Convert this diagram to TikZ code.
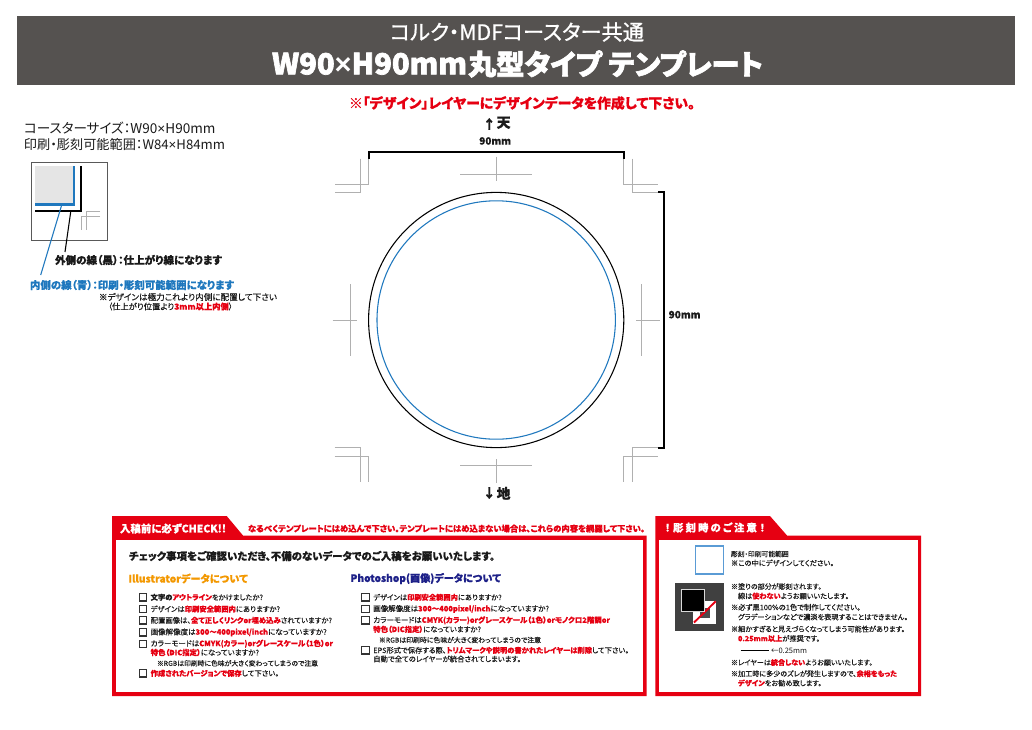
\documentclass[tikz,border=0pt]{standalone}
\usepackage{fontspec}
\usepackage{graphicx}
\setmainfont[RawFeature={+palt},UprightFeatures={FakeBold=0.25},BoldFeatures={FakeBold=0.5}]{Noto Sans CJK JP}
\newfontfamily\jpl[RawFeature={+palt}]{Noto Sans CJK JP}
\newfontfamily\jpm[RawFeature={+palt},UprightFeatures={FakeBold=0.9}]{Noto Sans CJK JP}
\newfontfamily\jph[RawFeature={+palt},BoldFeatures={FakeBold=2.2}]{Noto Sans CJK JP}
\newfontfamily\lib{Liberation Sans}
\definecolor{hdr}{HTML}{555250}
\definecolor{rd}{HTML}{E60012}
\definecolor{bl}{HTML}{1F78BE}
\definecolor{sq}{HTML}{5A9BD5}
\definecolor{org}{HTML}{F39800}
\definecolor{nvy}{HTML}{1D2088}
\definecolor{crop}{HTML}{B0B0B0}
\definecolor{txk}{HTML}{1A1A1A}
\newcounter{tn}
\newcommand{\T}[4]{\stepcounter{tn}\pgfmathsetlengthmacro{\tw}{(#2-#1)*0.75pt}%
  \node[txt] (t\arabic{tn}) at (#1,#3) {\resizebox{\tw}{!}{\vphantom{国}#4}};}
\newcommand{\Rd}[1]{\textcolor{rd}{\bfseries #1}}
\newcommand{\Ck}[2]{\draw[chk] (#1,#2-3.6) rectangle ++(7.4,7.2);}
\newcommand{\Xs}{{\lib ×}}
\tikzset{
  txt/.style={anchor=west,inner sep=0pt,outer sep=0pt,text=txk},
  cropline/.style={crop,line width=0.75pt},
  chk/.style={draw=black!80,line width=0.9pt,fill=white},
  dim/.style={black,line width=1.6pt,line join=miter},
  panel/.style={fill=rd,draw=none},
}
\begin{document}
\begin{tikzpicture}[x=0.75pt,y=-0.75pt]
\useasboundingbox (0,0) rectangle (1032,729);
\fill[white] (0,0) rectangle (1032,729);
% header
\fill[hdr] (17,16) rectangle (1015,85);
\T{390}{644}{32}{\color{white}\jpm コルク・MDFコースター共通}
\T{272}{467}{64}{\color{white}\jph\bfseries W90\Xs H90mm}
\T{468}{763}{64}{\color{white}\jph\bfseries 丸型タイプ テンプレート}
\T{349}{695}{103}{\Rd{※「デザイン」レイヤーにデザインデータを作成して下さい。}}
% left info
\T{24}{215.5}{128}{\jpl コースターサイズ：W90\Xs H90mm}
\T{24}{225}{144.5}{\jpl 印刷・彫刻可能範囲：W84\Xs H84mm}
\draw[black!65,line width=0.7pt] (31,162) rectangle (107,240);
\fill[black!10] (35,166) rectangle (73,203.5);
\draw[bl,line width=1.6pt] (35,204.5)--(74,204.5)--(74,166);
\draw[black,line width=1.6pt] (35,211)--(81.3,211)--(81.3,166);
\draw[crop,line width=0.5pt] (100,211)--(86,211)--(86,230);
\draw[crop,line width=0.5pt] (100,216)--(81,216)--(81,230);
\coordinate (kA) at (70.7,212); \coordinate (kB) at (65,252);
\coordinate (bA) at (61.7,205); \coordinate (bB) at (40.7,275);
\draw[black,line width=0.8pt] (kA)--(kB);
\draw[bl,line width=0.8pt] (bA)--(bB);
\T{55}{222}{260}{\bfseries 外側の線（黒）：仕上がり線になります}
\T{30}{234}{285}{\color{bl}\bfseries 内側の線（青）：印刷・彫刻可能範囲になります}
\T{99}{277}{297}{※デザインは極力これより内側に配置して下さい}
\T{108}{233}{306.5}{（仕上がり位置より\Rd{3mm以上内側}）}
% main template
\draw[black,line width=0.8pt] (496.2,320) circle (127.6);
\draw[bl,line width=0.8pt] (496.2,320) circle (119.2);
\draw[dim] (368.7,158.5)--(368.7,152)--(623.7,152)--(623.7,158.5);
\draw[dim] (658.3,192)--(664.3,192)--(664.3,447.7)--(658.3,447.7);
% corner crop marks
\draw[cropline] (368.7,158.5)--(368.7,184.3)--(334.7,184.3);
\draw[cropline] (360.7,158.5)--(360.7,192.3)--(334.7,192.3);
\draw[cropline] (623.7,158.5)--(623.7,184.3)--(657.7,184.3);
\draw[cropline] (632.3,158.5)--(632.3,192.3)--(657.7,192.3);
\draw[cropline] (334.7,447.3)--(360.7,447.3)--(360.7,481.7);
\draw[cropline] (334.7,456)--(368.7,456)--(368.7,481.7);
\draw[cropline] (657.7,447.3)--(632.3,447.3)--(632.3,481.7);
\draw[cropline] (657.7,456)--(623.7,456)--(623.7,481.7);
% centre crop marks
\draw[cropline] (460,174.3)--(532,174.3) (496.3,156.7)--(496.3,180.7);
\draw[cropline] (460,465.3)--(532,465.3) (496.3,459.3)--(496.3,483.3);
\draw[cropline] (350.7,284)--(350.7,356) (332.7,320.3)--(356.7,320.3);
\draw[cropline] (641.7,284)--(641.7,356) (636,320.3)--(660,320.3);
% dimension labels
\T{483}{495.5}{124}{\bfseries ↑}
\T{496.7}{510.5}{122.7}{\bfseries 天}
\T{479.3}{511}{141}{\bfseries 90mm}
\T{668.7}{700.5}{314.7}{\bfseries 90mm}
\T{483}{495.5}{493}{\bfseries ↓}
\T{496.7}{510.5}{493.3}{\bfseries 地}
% panel 1
\fill[panel] (112,516)--(226.7,516)--(243,535.5)--(646.7,535.5)--(646.7,696)--(112,696)--cycle;
\fill[white] (116,539.5) rectangle (642.7,692);
\T{120}{226}{528.5}{\color{white}\bfseries 入稿前に必ずCHECK!!}
\T{248}{645}{528.5}{\Rd{なるべくテンプレートにはめ込んで下さい。テンプレートにはめ込まない場合は、これらの内容を網羅して下さい。}}
\T{129}{495}{556}{\bfseries チェック事項をご確認いただき、不備のないデータでのご入稿をお願いいたします。}
\T{128.5}{248}{578.5}{\color{org}\bfseries Illustratorデータについて}
\T{350.5}{501}{578.5}{\color{nvy}\bfseries Photoshop(画像)データについて}
\Ck{139.3}{597.3}\T{150.7}{263}{597.3}{\bfseries 文字の\Rd{アウトライン}\mdseries をかけましたか?}
\Ck{139.3}{609}\T{150.7}{280}{609}{デザインは\Rd{印刷安全範囲内}にありますか?}
\Ck{139.3}{620.3}\T{150.7}{332}{620.3}{配置画像は、\Rd{全て正しくリンクor埋め込み}されていますか?}
\Ck{139.3}{632.3}\T{150.7}{326.7}{632.3}{画像解像度は\Rd{300〜400pixel/inch}になっていますか?}
\Ck{139.3}{643.7}\T{150.7}{333}{643.7}{カラーモードは\Rd{CMYK(カラー)orグレースケール（1色）or}}
\T{150.7}{259}{652.5}{\Rd{特色（DIC指定）}になっていますか?}
\T{157}{318}{663.3}{※RGBは印刷時に色味が大きく変わってしまうので注意}
\Ck{139.3}{673.3}\T{150.7}{279}{673.3}{\Rd{作成されたバージョンで保存}して下さい。}
\Ck{361.7}{597.3}\T{373.3}{501.7}{597.3}{デザインは\Rd{印刷安全範囲内}にありますか?}
\Ck{361.7}{609}\T{373.3}{549}{609}{画像解像度は\Rd{300〜400pixel/inch}になっていますか?}
\Ck{361.7}{620.3}\T{373.3}{610}{620.3}{カラーモードは\Rd{CMYK(カラー)orグレースケール（1色）orモノクロ2階調or}}
\T{373.3}{481}{629.3}{\Rd{特色（DIC指定）}になっていますか?}
\T{379}{541}{640}{※RGBは印刷時に色味が大きく変わってしまうので注意}
\Ck{361.7}{650.3}\T{373.3}{629}{650.3}{EPS形式で保存する際、\Rd{トリムマークや説明の書かれたレイヤーは削除}して下さい。}
\T{373.3}{521}{659}{自動で全てのレイヤーが統合されてしまいます。}
% panel 2
\fill[panel] (655.3,516)--(770,516)--(787,535.5)--(921,535.5)--(921,696)--(655.3,696)--cycle;
\fill[white] (659.3,539.5) rectangle (917.7,692);
\T{665}{765}{527.5}{\color{white}\bfseries ！\kern.28em 彫\kern.2em 刻\kern.2em 時\kern.2em の\kern.2em ご\kern.2em 注\kern.2em 意\kern.28em ！}
\draw[sq,line width=1pt] (695.3,546) rectangle (723.3,574);
\T{731}{788.7}{554}{彫刻・印刷可能範囲}
\T{731}{834}{563}{※この中にデザインしてください。}
\fill[black!75] (675,583) rectangle (723.5,630.5);
\fill[white] (693.3,600.7) rectangle (716,624);
\fill[black!70] (700,608) rectangle (710,618);
\draw[rd,line width=1.4pt] (694,622.5)--(715.7,601.3);
\fill[black] (681.7,589.7) rectangle (704.3,611.3);
\draw[black!15,line width=0.8pt] (681.7,589.7) rectangle (704.3,611.3);
\T{731}{821.7}{586.5}{※塗りの部分が彫刻されます。}
\T{738}{849}{596}{線は\Rd{使わない}ようお願いいたします。}
\T{731}{860.7}{607.3}{※必ず黒100\%の1色で制作してください。}
\T{738}{908}{617}{グラデーションなどで濃淡を表現することはできません。}
\T{731}{905}{629}{※細かすぎると見えづらくなってしまう可能性があります。}
\T{738}{820}{638.5}{\Rd{0.25mm以上}が推奨です。}
\coordinate (sA) at (740.7,650.5); \coordinate (sB) at (768.7,650.5);
\draw[black,line width=0.6pt] (sA)--(sB);
\T{771}{807}{650.5}{\jpl ←0.25mm}
\T{731}{872.7}{662.5}{※レイヤーは\Rd{統合しない}ようお願いいたします。}
\T{731}{897}{673.7}{※加工時に多少のズレが発生しますので、\Rd{余裕をもった}}
\T{738}{821.7}{683}{\Rd{デザイン}をお勧め致します。}
\end{tikzpicture}
\end{document}
